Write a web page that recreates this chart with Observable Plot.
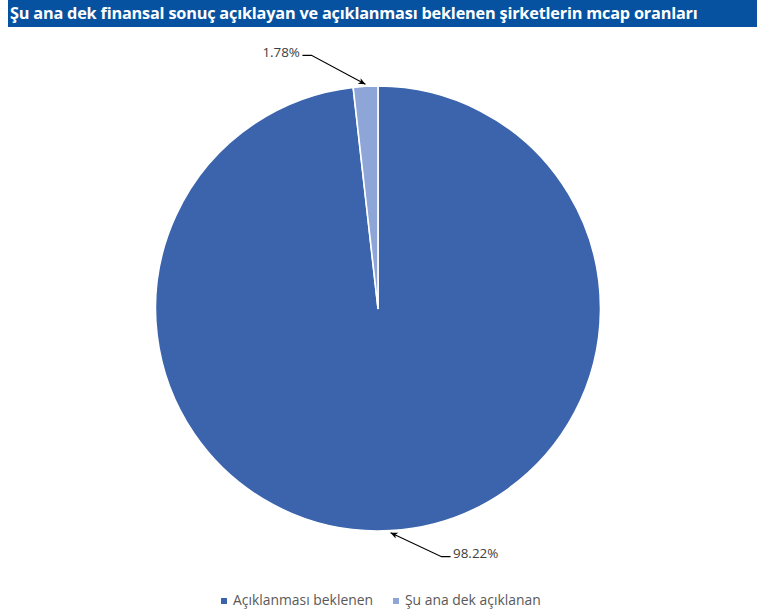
<!DOCTYPE html>
<html><head><meta charset="utf-8">
<script src="https://cdn.jsdelivr.net/npm/d3@7"></script>
<script src="https://cdn.jsdelivr.net/npm/@observablehq/plot@0.6"></script>
<style>
html,body{margin:0;padding:0;background:#fff;}
body{width:757px;height:613px;overflow:hidden;position:relative;font-family:"Open Sans",sans-serif;}
#title{position:absolute;left:8px;top:0;width:749px;height:27px;background:#0652A0;color:#fff;font-weight:700;font-size:16.3px;line-height:27px;padding-left:2px;white-space:nowrap;box-sizing:border-box;letter-spacing:-0.2px}
#chart{position:absolute;left:0;top:28px}
.leg{position:absolute;top:590px;font-size:13.9px;color:#595959;white-space:nowrap;line-height:19px}
.leg i{display:inline-block;width:6px;height:6px;margin-right:6px;vertical-align:1px}
</style>
</head><body>
<div id="title"></div>
<div id="chart"></div>
<div id="legend"></div>
<script>
const titleText = "Şu ana dek finansal sonuç açıklayan ve açıklanması beklenen şirketlerin mcap oranları";
const categories = ["Açıklanması beklenen", "Şu ana dek açıklanan"];
const shares = [98.22, 1.78];
const valueLabels = ["98.22%", "1.78%"];
const colors = ["#3B64AD", "#8EA5D8"];

document.getElementById("title").textContent = titleText;

const data = categories.map((c, i) => ({category: c, value: shares[i], label: valueLabels[i]}));
const colorScale = Plot.scale({color: {type: "ordinal", domain: categories, range: colors}});

// layout only (not data)
const W = 757, H = 560, R = 222.5, CY = 280.5;
const leaderOffsets = {"Açıklanması beklenen": [51, 24, 9], "Şu ana dek açıklanan": [-54, -29, -9]};

function pieMark(index, scales, values, dimensions) {
  const cx = dimensions.width / 2 - 0.5, cy = CY;
  const g = d3.create("svg:g");
  const defs = g.append("defs");
  defs.append("marker").attr("id", "arr").attr("viewBox", "-10 -5 12 10")
    .attr("markerWidth", 10).attr("markerHeight", 8).attr("refX", 0).attr("refY", 0)
    .attr("orient", "auto").attr("markerUnits", "userSpaceOnUse")
    .append("path").attr("d", "M0,0 L-9,-4 L-6.5,0 L-9,4 Z").attr("fill", "#000");
  const pie = d3.pie().sort(null).value(d => d.value);
  const arcs = pie(data);
  const arc = d3.arc().innerRadius(0).outerRadius(R);
  const pg = g.append("g").attr("transform", `translate(${cx},${cy})`);
  pg.selectAll("path").data(arcs).join("path")
    .attr("d", arc)
    .attr("fill", d => colorScale.apply(d.data.category))
    .attr("stroke", "#fff").attr("stroke-width", 1.6).attr("stroke-linejoin", "round");
  for (const a of arcs) {
    const mid = (a.startAngle + a.endAngle) / 2;
    const tx = cx + (R + 2) * Math.sin(mid), ty = cy - (R + 2) * Math.cos(mid);
    const [dx, dy, hl] = leaderOffsets[a.data.category];
    const ex = tx + dx, ey = ty + dy, lx = ex + hl;
    g.append("path")
      .attr("d", `M${lx},${ey} L${ex},${ey} L${tx},${ty}`)
      .attr("fill", "none").attr("stroke", "#000").attr("stroke-width", 1.1)
      .attr("marker-end", "url(#arr)");
    g.append("text")
      .attr("x", hl > 0 ? lx + 2.5 : lx - 2.5).attr("y", ey - 3).attr("dy", "0.35em")
      .attr("text-anchor", hl > 0 ? "start" : "end")
      .attr("font-family", "'Open Sans', sans-serif").attr("font-size", 13.4)
      .attr("fill", "#404040").text(a.data.label);
  }
  return g.node();
}

const chart = Plot.plot({
  width: W, height: H,
  margin: 0,
  x: {axis: null}, y: {axis: null},
  style: {background: "transparent", overflow: "visible"},
  marks: [pieMark]
});
document.getElementById("chart").append(chart);

const legend = document.getElementById("legend");
const legendX = [221, 393];
categories.forEach((c, i) => {
  const d = document.createElement("div");
  d.className = "leg";
  d.style.left = legendX[i] + "px";
  const sw = document.createElement("i");
  sw.style.background = colorScale.apply(c);
  d.append(sw, document.createTextNode(c));
  legend.append(d);
});
</script>
</body></html>
